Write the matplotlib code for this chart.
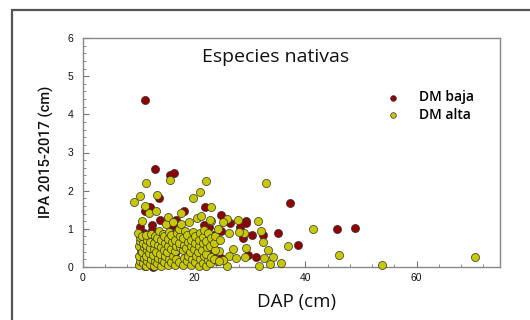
import matplotlib
matplotlib.use("Agg")
import matplotlib.pyplot as plt
from matplotlib.patches import Rectangle
from matplotlib.ticker import MultipleLocator

# DM baja (red)
baja_dap = [11.2, 13.0, 15.7, 16.4, 13.7, 18.1, 21.9, 12.1, 11.2, 37.2, 24.8, 29.4, 29.4,
            45.7, 49.0, 35.0, 32.3, 30.4, 38.6, 24.8, 28.3, 26.4, 22.7, 21.7, 13.9, 12.4,
            12.4, 10.2, 15.6, 23.5, 28.7, 29.6, 31.1, 24.9, 13.1, 18.2, 20.5, 11.1, 16.5,
            14.0, 18.7, 21.0, 13.1, 16.1, 16.7, 11.0, 14.0, 16.0, 19.5, 12.5, 17.5, 21.0,
            23.5, 19.0, 22.0]
baja_ipa = [4.38, 2.58, 2.41, 2.46, 1.82, 1.48, 1.56, 1.57, 1.48, 1.68, 1.35, 1.21, 1.15,
            0.99, 1.03, 0.88, 0.83, 0.84, 0.57, 0.94, 1.04, 1.14, 1.06, 1.09, 1.22, 1.11,
            0.98, 1.06, 0.92, 0.83, 0.77, 0.32, 0.25, 0.23, 0.73, 0.74, 0.68, 0.02, 0.36,
            0.10, 0.37, 0.49, 0.57, 1.10, 1.22, 0.90, 0.75, 0.58, 0.78, 0.00, 0.12, 0.15,
            0.40, 0.20, 0.05]

# DM alta (yellow)
alta_dap = [9.2, 10.3, 11.3, 15.6, 22.2, 13.3, 11.2, 11.8, 13.2, 19.8, 21.1, 23.1, 17.7,
            20.5, 21.3, 23.1, 32.9, 31.4, 25.9, 27.9, 32.1, 41.3, 36.8, 33.2, 32.3, 46.0,
            53.8, 70.5, 35.6, 34.2, 33.7, 32.5, 31.6, 29.4, 26.9, 28.9, 28.0, 26.2, 24.4,
            26.2, 27.5, 29.2, 25.9, 25.1, 24.1, 25.1, 10.6,
            10.0, 10.3, 10.1, 10.4, 10.0, 10.3, 10.2, 9.9,
            10.8, 10.9, 10.7, 11.0, 10.8, 10.6,
            11.4, 11.6, 11.3, 11.5, 11.3, 11.6, 11.4,
            12.0, 12.2, 11.9, 12.1, 12.0, 12.3,
            12.7, 12.9, 12.6, 12.8, 12.7, 12.9,
            13.3, 13.5, 13.2, 13.4, 13.3, 13.6,
            14.0, 14.2, 13.9, 14.1, 14.0, 14.3,
            14.6, 14.8, 14.5, 14.7, 14.6, 14.9,
            15.2, 15.4, 15.1, 15.3, 15.2, 15.5, 15.2,
            15.9, 16.1, 15.8, 16.0, 15.9, 16.2,
            16.6, 16.8, 16.5, 16.7, 16.6, 16.9,
            17.3, 17.5, 17.2, 17.4, 17.3, 17.6,
            18.0, 18.2, 17.9, 18.1, 18.0, 18.3,
            18.7, 18.9, 18.6, 18.8, 18.7, 19.0,
            19.4, 19.6, 19.3, 19.5, 19.4, 19.7,
            20.1, 20.3, 20.0, 20.2, 20.1,
            20.8, 21.0, 20.7, 20.9, 20.8, 21.1,
            21.5, 21.7, 21.4, 21.6, 21.5, 21.8,
            22.2, 22.4, 22.1, 22.3, 22.2, 22.5,
            22.9, 23.1, 22.8, 23.0, 22.9,
            23.6, 23.8, 23.5, 23.7,
            24.4, 24.6, 24.3]
alta_ipa = [1.71, 1.85, 2.21, 2.28, 2.26, 1.89, 1.60, 1.41, 1.46, 1.80, 1.97, 1.56, 1.41,
            1.28, 1.33, 1.20, 2.20, 1.20, 1.25, 1.24, 0.95, 0.99, 0.54, 0.44, 0.65, 0.32,
            0.04, 0.25, 0.11, 0.25, 0.07, 0.23, 0.03, 0.50, 0.47, 0.88, 0.93, 0.89, 0.42,
            0.28, 0.23, 0.25, 0.02, 0.19, 0.16, 1.19, 1.21,
            0.05, 0.16, 0.30, 0.42, 0.55, 0.68, 0.78, 0.88,
            0.10, 0.24, 0.38, 0.52, 0.64, 0.80,
            0.02, 0.15, 0.29, 0.44, 0.58, 0.72, 0.84,
            0.08, 0.22, 0.37, 0.50, 0.66, 0.86,
            0.03, 0.15, 0.31, 0.46, 0.62, 0.80,
            0.10, 0.24, 0.40, 0.58, 0.76, 0.95,
            0.02, 0.18, 0.34, 0.52, 0.70, 0.86,
            0.12, 0.28, 0.45, 0.62, 0.80, 1.12,
            0.05, 0.22, 0.40, 0.56, 0.74, 0.92, 1.30,
            0.13, 0.30, 0.48, 0.66, 0.84, 1.18,
            0.04, 0.20, 0.42, 0.56, 0.72, 0.90,
            0.12, 0.52, 0.64, 0.80, 1.00, 1.12,
            0.06, 0.24, 0.44, 0.58, 0.75, 0.95,
            0.15, 0.30, 0.50, 0.66, 0.85, 1.18,
            0.04, 0.22, 0.40, 0.56, 0.72, 0.92,
            0.12, 0.30, 0.47, 0.62, 0.80,
            0.02, 0.20, 0.38, 0.55, 0.72, 0.88,
            0.10, 0.28, 0.45, 0.62, 0.78, 0.98,
            0.02, 0.18, 0.35, 0.52, 0.68, 0.90,
            0.10, 0.27, 0.55, 0.75, 1.22,
            0.20, 0.45, 0.62, 0.82,
            0.15, 0.70, 1.00]

x_ticks = [0, 20, 40, 60]
y_ticks = [0, 1, 2, 3, 4, 5, 6]

fig = plt.figure(figsize=(5.3, 3.2), dpi=100)
fig.patch.set_facecolor("white")
fig.patches.append(Rectangle((12 / 530, -0.2), 1.2, 1.2 - 10 / 320,
                             transform=fig.transFigure, fill=False,
                             edgecolor="#555555", linewidth=1.6, clip_on=False))

ax = fig.add_axes([83 / 530, 1 - 267 / 320, 417 / 530, 229 / 320])
red = "#8f0000"
yel = "#c8c800"
ax.scatter(baja_dap, baja_ipa, s=34, c=red, edgecolors="#333333", linewidths=0.5,
           label="DM baja", zorder=2, clip_on=False)
ax.scatter(alta_dap, alta_ipa, s=34, c=yel, edgecolors="#333333", linewidths=0.5,
           label="DM alta", zorder=3, clip_on=False)

ax.set_xlim(0, 75)
ax.set_ylim(0, 6)
ax.set_xticks(x_ticks)
ax.set_yticks(y_ticks)
ax.xaxis.set_minor_locator(MultipleLocator(4))
ax.yaxis.set_minor_locator(MultipleLocator(0.2))
ax.tick_params(which="both", direction="in", top=False, right=False,
               color="#777777", labelsize=7.5, labelcolor="#111111")
ax.tick_params(which="major", length=4, width=0.8)
ax.tick_params(which="minor", length=2.5, width=0.6)
ax.tick_params(axis="y", pad=7)
ax.tick_params(axis="x", pad=4)
for lab in ax.get_xticklabels() + ax.get_yticklabels():
    lab.set_family("Liberation Sans")
for sp in ax.spines.values():
    sp.set_color("#888888")
    sp.set_linewidth(1.0)

ax.text(34.6, 5.5, "Especies nativas", fontsize=14, family="Open Sans",
        ha="center", va="center", color="#111111")
fig.text(297 / 530, 1 - 302 / 320, "DAP (cm)", fontsize=13.5, family="Open Sans",
         ha="center", va="center", color="#111111")
fig.text(46 / 530, 1 - 152 / 320, "IPA 2015-2017 (cm)", fontsize=10.5,
         family="Roboto", fontweight="medium", rotation=90,
         ha="center", va="center", color="#111111")

leg = ax.legend(loc="upper left", bbox_to_anchor=(0.727, 0.772), frameon=False,
                prop={"family": "Open Sans", "size": 10, "weight": "semibold"},
                borderpad=0, borderaxespad=0, handlelength=1.0, handletextpad=1.4,
                labelspacing=0.25, markerscale=0.7)

fig.savefig("out.png", dpi=100)
